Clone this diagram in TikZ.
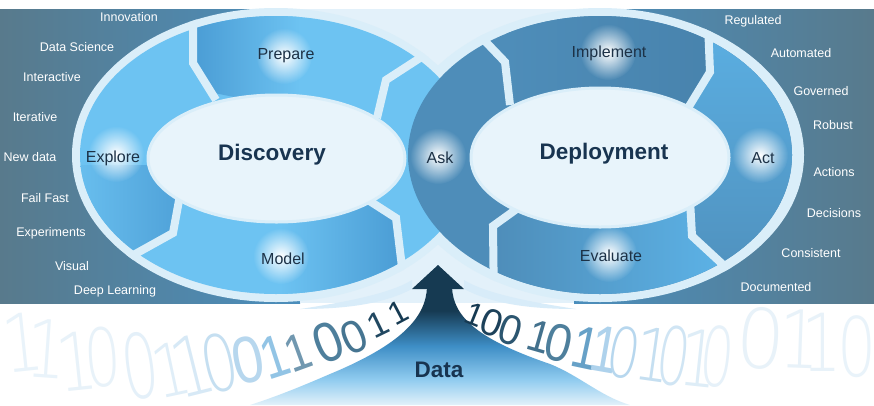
\documentclass[tikz,border=0pt]{standalone}
\usepackage{fontspec}
\setmainfont{Liberation Sans}
\newfontfamily\digitfont{DejaVu Sans ExtraLight}
\usetikzlibrary{fadings}

\definecolor{bandgray}{HTML}{587A8C}
\definecolor{bandblue}{HTML}{4B8EBC}
\definecolor{borderlight}{HTML}{DAEEF9}
\definecolor{middlelight}{HTML}{E3F1FA}
\definecolor{ringlight}{HTML}{6DC3F2}
\definecolor{ringmid}{HTML}{4A9CD4}
\definecolor{ringdark}{HTML}{4E8DB9}
\definecolor{ringdarker}{HTML}{4883AD}
\definecolor{actlight}{HTML}{5CB2E6}
\definecolor{innerfill}{HTML}{E8F4FB}
\definecolor{labelnavy}{HTML}{1C3146}
\definecolor{phasenavy}{HTML}{183450}
\definecolor{arrownavy}{HTML}{163A52}
\definecolor{DigitSlate}{HTML}{4E7F9C}
\definecolor{flareblue}{HTML}{3E8EC6}
\definecolor{flaremid}{HTML}{8FCBEF}
\definecolor{flarelow}{HTML}{E2F1FA}
\definecolor{armlight}{HTML}{D8ECF9}

\tikzfading[name=GlowFade, inner color=transparent!0, outer color=transparent!100]
\pgfdeclareverticalshading{DataFlare}{100bp}{color(0bp)=(flarelow); color(25bp)=(flarelow); color(36bp)=(flaremid); color(50bp)=(flareblue); color(65bp)=(arrownavy); color(100bp)=(arrownavy)}

\begin{document}
\begin{tikzpicture}[x=1pt,y=-1pt]
  \tikzset{SideLabelStyle/.style = {
    text          = white,
    inner sep     = 0pt,
    font          = \fontsize{12.5}{14}\selectfont
    }
  }
  \tikzset{RingLabelStyle/.style = {
    text          = labelnavy,
    inner sep     = 0pt,
    font          = \fontsize{16}{18}\selectfont
    }
  }
  \tikzset{PhaseLabelStyle/.style = {
    text          = phasenavy,
    inner sep     = 0pt,
    font          = \bfseries\fontsize{22.5}{26}\selectfont
    }
  }
  \tikzset{DividerStyle/.style = {
    draw          = borderlight,
    line width    = 8pt,
    line join     = miter
    }
  }
  \tikzset{GlowStyle/.style = {
    fill          = white,
    path fading   = GlowFade
    }
  }
  \tikzset{DigitStyle/.style n args = {4}{
    text          = #1,
    rotate        = #2,
    font          = \fontsize{#3}{#3}\selectfont,
    xscale        = #4,
    inner sep     = 0pt
    }
  }
  \tikzset{FaintDigitStyle/.style n args = {4}{
    DigitStyle    = {#1}{#2}{#3}{#4},
    font          = \digitfont\fontsize{#3}{#3}\selectfont
    }
  }

  % background band
  \useasboundingbox (0,0) rectangle (874,405);
  \fill[white] (0,0) rectangle (874,405);
  \shade[left color=bandgray, right color=bandblue] (0,9) rectangle (300,303);
  \shade[left color=bandblue, right color=bandgray] (574,9) rectangle (874,303);
  \fill[middlelight] (300,9) rectangle (574,303);

  % outer borders
  \fill[borderlight] (276,155) ellipse [x radius=204, y radius=147];
  \fill[borderlight] (600,155) ellipse [x radius=204, y radius=147];

  % discovery ring
  \begin{scope}
    \clip (276,155) ellipse [x radius=196, y radius=139];
    \fill[ringlight] (70,0) rectangle (480,310);
    \shade[left color=ringmid, right color=ringlight] (192,0) -- (300,0) -- (300,110) -- (214,93) -- (192,63) -- cycle;
    \shade[left color=ringlight, right color=ringmid] (60,165) -- (200,165) -- (178,200) -- (172,233) -- (120,262) -- (60,262) -- cycle;
    \shade[left color=ringlight, right color=ringmid] (280,200) -- (372,205) -- (396,218) -- (402,310) -- (280,310) -- cycle;
  \end{scope}

  % deployment ring
  \begin{scope}
    \clip (600,155) ellipse [x radius=192, y radius=139];
    \fill[ringdark] (400,0) rectangle (800,310);
    \shade[left color=ringdark, right color=ringdarker] (505,0) -- (708,0) -- (710,72) -- (688,108) -- (510,105) -- cycle;
    \shade[top color=actlight, middle color=actlight, bottom color=ringdark] (707,0) -- (820,0) -- (820,310) -- (722,268) -- (692,236) -- (690,205) -- (690,104) -- (710,72) -- cycle;
    \shade[left color=ringdark, right color=actlight] (494,262) -- (492,226) -- (515,212) -- (690,205) -- (692,236) -- (722,268) -- (722,310) -- (494,310) -- cycle;
  \end{scope}

  % dividers
  \begin{scope}
    \clip (276,155) ellipse [x radius=204, y radius=147];
    \draw[DividerStyle] (193,0) -- (193,63) -- (216,100);
    \draw[DividerStyle] (440,45) -- (386,80) -- (377,118);
    \draw[DividerStyle] (180,195) -- (173,233) -- (110,268);
    \draw[DividerStyle] (368,200) -- (396,218) -- (406,300);
  \end{scope}
  \begin{scope}
    \clip (600,155) ellipse [x radius=204, y radius=147];
    \draw[DividerStyle] (460,15) -- (505,62) -- (510,105);
    \draw[DividerStyle] (707,0) -- (710,72) -- (688,108);
    \draw[DividerStyle] (690,200) -- (692,236) -- (745,285);
    \draw[DividerStyle] (518,208) -- (493,226) -- (494,310);
  \end{scope}

  % glows
  \path[GlowStyle] (284,56) circle (28);
  \path[GlowStyle] (116,154) circle (28);
  \path[GlowStyle] (281,256) circle (28);
  \path[GlowStyle] (438,156) circle (28);
  \path[GlowStyle] (608,52) circle (28);
  \path[GlowStyle] (760,155) circle (28);
  \path[GlowStyle] (609,254) circle (28);

  % inner ellipses
  \filldraw[fill=innerfill, draw=borderlight, line width=3pt] (276.5,158.5) ellipse [x radius=128.5, y radius=63.5];
  \filldraw[fill=innerfill, draw=borderlight, line width=3pt] (600,157.5) ellipse [x radius=129, y radius=69.5];

  \node[PhaseLabelStyle](discovery) at (272,155) {Discovery};
  \node[PhaseLabelStyle](deployment) at (604,154) {Deployment};

  \node[RingLabelStyle](prepare) at (286,56) {Prepare};
  \node[RingLabelStyle](explore) at (113,158) {Explore};
  \node[RingLabelStyle](model) at (283,259) {Model};
  \node[RingLabelStyle](ask) at (440,158) {Ask};
  \node[RingLabelStyle](implement) at (609,53) {Implement};
  \node[RingLabelStyle](act) at (763,158) {Act};
  \node[RingLabelStyle](evaluate) at (611,256) {Evaluate};

  \node[SideLabelStyle](innovation) at (129,17) {Innovation};
  \node[SideLabelStyle](datascience) at (77,47) {Data Science};
  \node[SideLabelStyle](interactive) at (52,77) {Interactive};
  \node[SideLabelStyle](iterative) at (35,117) {Iterative};
  \node[SideLabelStyle](newdata) at (30,157) {New data};
  \node[SideLabelStyle](failfast) at (45,198) {Fail Fast};
  \node[SideLabelStyle](experiments) at (51,233) {Experiments};
  \node[SideLabelStyle](visual) at (72,266) {Visual};
  \node[SideLabelStyle](deeplearning) at (115,291) {Deep Learning};

  \node[SideLabelStyle](regulated) at (753,21) {Regulated};
  \node[SideLabelStyle](automated) at (801,53) {Automated};
  \node[SideLabelStyle](governed) at (821,91) {Governed};
  \node[SideLabelStyle](robust) at (833,125) {Robust};
  \node[SideLabelStyle](actions) at (834,172) {Actions};
  \node[SideLabelStyle](decisions) at (834,213) {Decisions};
  \node[SideLabelStyle](consistent) at (811,253) {Consistent};
  \node[SideLabelStyle](documented) at (776,287) {Documented};

  % data stream
  \fill[armlight] (412,289) .. controls (385,303) and (350,309) .. (300,309) .. controls (340,303) and (390,294) .. (412,280) -- cycle;
  \fill[armlight] (464,289) .. controls (491,303) and (526,309) .. (576,309) .. controls (536,303) and (486,294) .. (464,280) -- cycle;
  \shade[shading=DataFlare] (427,287) .. controls (426,318) and (400,345) .. (330,374) .. controls (300,387) and (275,397) .. (250,405) -- (630,405) .. controls (600,396) and (580,376) .. (550,364) .. controls (480,340) and (453,318) .. (452,287) -- cycle;
  \fill[arrownavy] (438,265) -- (412,289) -- (464,289) -- cycle;
  \node[PhaseLabelStyle](data) at (439,370) {Data};

  \node[FaintDigitStyle={ringmid!12!white}{6}{80}{.8}](dl1) at (23,342) {1};
  \node[FaintDigitStyle={ringmid!12!white}{-4}{80}{.8}](dl2) at (47,349) {1};
  \node[FaintDigitStyle={ringmid!13!white}{6}{80}{.8}](dl3) at (77,361) {1};
  \node[FaintDigitStyle={ringmid!13!white}{4}{80}{.72}](dl4) at (103,357) {0};
  \node[FaintDigitStyle={ringmid!15!white}{8}{89}{.65}](dl5) at (140,366) {0};
  \node[FaintDigitStyle={ringmid!17!white}{12}{73}{.8}](dl6) at (171,370) {1};
  \node[FaintDigitStyle={ringmid!22!white}{14}{82}{.8}](dl7) at (193,365) {1};
  \node[FaintDigitStyle={ringmid!32!white}{12}{78}{.74}](dl8) at (220,363) {0};
  \node[DigitStyle={ringmid!40!white}{12}{66}{.85}](dl9) at (248,360) {0};
  \node[DigitStyle={ringmid!60!white}{18}{60}{.8}](dl10) at (275,357) {1};
  \node[DigitStyle={DigitSlate!80!white}{20}{52}{.85}](dl11) at (298,352) {1};
  \node[DigitStyle={DigitSlate}{22}{56}{.9}](dl12) at (328,342) {0};
  \node[DigitStyle={DigitSlate!85!arrownavy}{24}{46}{.95}](dl13) at (354,337) {0};
  \node[DigitStyle={arrownavy!80!DigitSlate}{26}{35}{1}](dl14) at (378,324) {1};
  \node[DigitStyle={arrownavy}{28}{32}{1}](dl15) at (398,313) {1};

  \node[DigitStyle={arrownavy}{-22}{32}{1}](dr1) at (475,315) {1};
  \node[DigitStyle={arrownavy!90!DigitSlate}{-20}{38}{1}](dr2) at (492,323) {0};
  \node[DigitStyle={arrownavy!60!DigitSlate}{-18}{42}{.95}](dr3) at (511,330) {0};
  \node[DigitStyle={DigitSlate!80!arrownavy}{-16}{45}{.9}](dr4) at (540,337) {1};
  \node[DigitStyle={DigitSlate}{-14}{53}{.9}](dr5) at (559,343) {0};
  \node[DigitStyle={ringmid!60!DigitSlate!85!white}{-12}{60}{.8}](dr6) at (586,348) {1};
  \node[DigitStyle={ringmid!45!white}{-10}{66}{.75}](dr7) at (605,350) {1};
  \node[FaintDigitStyle={ringmid!40!white}{-10}{69}{.75}](dr8) at (624,353) {0};
  \node[FaintDigitStyle={ringmid!32!white}{-8}{73}{.8}](dr9) at (654,355) {1};
  \node[FaintDigitStyle={ringmid!26!white}{-8}{80}{.65}](dr10) at (674,356) {0};
  \node[FaintDigitStyle={ringmid!18!white}{-6}{78}{.8}](dr11) at (699,358) {1};
  \node[FaintDigitStyle={ringmid!14!white}{-6}{82}{.65}](dr12) at (717,357) {0};
  \node[FaintDigitStyle={ringmid!13!white}{-4}{82}{.94}](dr13) at (761,338) {0};
  \node[FaintDigitStyle={ringmid!13!white}{-2}{80}{.8}](dr14) at (800,339) {1};
  \node[FaintDigitStyle={ringmid!13!white}{0}{80}{.8}](dr15) at (822,342) {1};
  \node[FaintDigitStyle={ringmid!12!white}{0}{82}{.75}](dr16) at (857,347) {0};
\end{tikzpicture}
\end{document}
